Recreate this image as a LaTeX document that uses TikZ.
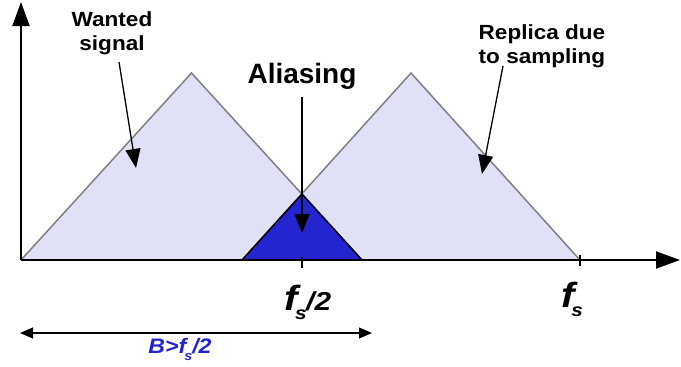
\documentclass[tikz,border=0pt]{standalone}
\usepackage{fontspec}
\setmainfont{Liberation Sans}
\newfontfamily\lblfont[FakeStretch=1.1]{Liberation Sans}
\newfontfamily\freqfont[FakeStretch=1.15]{Liberation Sans}
\usetikzlibrary{arrows.meta}
\definecolor{lav}{RGB}{224,224,246}
\definecolor{edgegray}{RGB}{128,128,128}
\definecolor{aliasblue}{RGB}{36,36,208}
\definecolor{textblue}{RGB}{36,36,210}
\begin{document}
\begin{tikzpicture}[x=1pt,y=-1pt,
  axisline/.style={line width=2pt,-{Triangle[length=24pt,width=17pt]}},
  pointer/.style={line width=1.3pt,-{Triangle[length=19pt,width=15pt]}},
  spectrum/.style={fill=lav},
  spedge/.style={draw=edgegray,line width=1.5pt,line join=miter},
  lbl/.style={font=\lblfont\bfseries\fontsize{20.5}{24}\selectfont,align=center,inner sep=0pt},
  freq/.style={font=\freqfont\bfseries\itshape\fontsize{26}{28}\selectfont,inner sep=0pt,anchor=base},
  tick/.style={line width=1.3pt}]
\useasboundingbox (0,0) rectangle (681,367);

% coordinates
\coordinate (O) at (21,260);
\coordinate (ytop) at (21,2);
\coordinate (xend) at (680,260);
\coordinate (L0) at (21,260);
\coordinate (L1) at (191.5,73);
\coordinate (L2) at (362,260);
\coordinate (R0) at (242,260);
\coordinate (R1) at (411,73);
\coordinate (R2) at (580,260);
\coordinate (X) at (302,194);

% spectra
\fill[spectrum] (L0) -- (L1) -- (L2) -- cycle;
\fill[spectrum] (R0) -- (R1) -- (R2) -- cycle;
\draw[spedge] (L0) -- (L1) -- (L2);
\draw[spedge] (R0) -- (R1) -- (R2);
\draw[line width=1.5pt,fill=aliasblue,line join=miter] (R0) -- (X) -- (L2) -- cycle;

% axes
\draw[axisline] (O) -- (ytop);
\draw[axisline] (O) -- (xend);

% ticks
\coordinate (t1a) at (302,257); \coordinate (t1b) at (302,268);
\coordinate (t2a) at (580,255); \coordinate (t2b) at (580,266);
\draw[tick] (t1a) -- (t1b);
\draw[tick] (t2a) -- (t2b);

% labels
\node[lbl] (wanted) at (112,33) {Wanted\\signal};
\node[lbl] (replica) at (542,46) {Replica due\\to sampling};
\node[font=\bfseries\fontsize{28}{30}\selectfont,inner sep=0pt,anchor=base] (aliasing) at (302,83) {Aliasing};

\node[freq] (fhalf) at (308,310) {{\fontsize{35}{35}\selectfont f}\kern-3pt\raisebox{-9pt}{\fontsize{18}{18}\selectfont s}\kern-0.5pt/2};
\node[freq] (fs) at (572,307) {{\fontsize{35}{35}\selectfont f}\kern-3pt\raisebox{-9pt}{\fontsize{18}{18}\selectfont s}};

% pointer arrows
\coordinate (wa) at (119,62); \coordinate (wb) at (136,168);
\coordinate (aa) at (302,97); \coordinate (ab) at (302,233);
\coordinate (ra) at (503,66); \coordinate (rb) at (482,174);
\draw[pointer] (wa) -- (wb);
\draw[pointer] (aa) -- (ab);
\draw[pointer] (ra) -- (rb);

% bandwidth arrow
\coordinate (bl) at (20,333); \coordinate (br) at (372,333);
\draw[line width=1.2pt,{Triangle[length=13pt,width=11pt]}-{Triangle[length=13pt,width=11pt]}] (bl) -- (br);
\node[font=\lblfont\bfseries\itshape\fontsize{21}{22}\selectfont,text=textblue,inner sep=0pt,anchor=base] (bw) at (180,353) {B>f\kern-2pt\raisebox{-7pt}{\fontsize{13}{13}\selectfont s}\kern0pt/2};
\end{tikzpicture}
\end{document}
